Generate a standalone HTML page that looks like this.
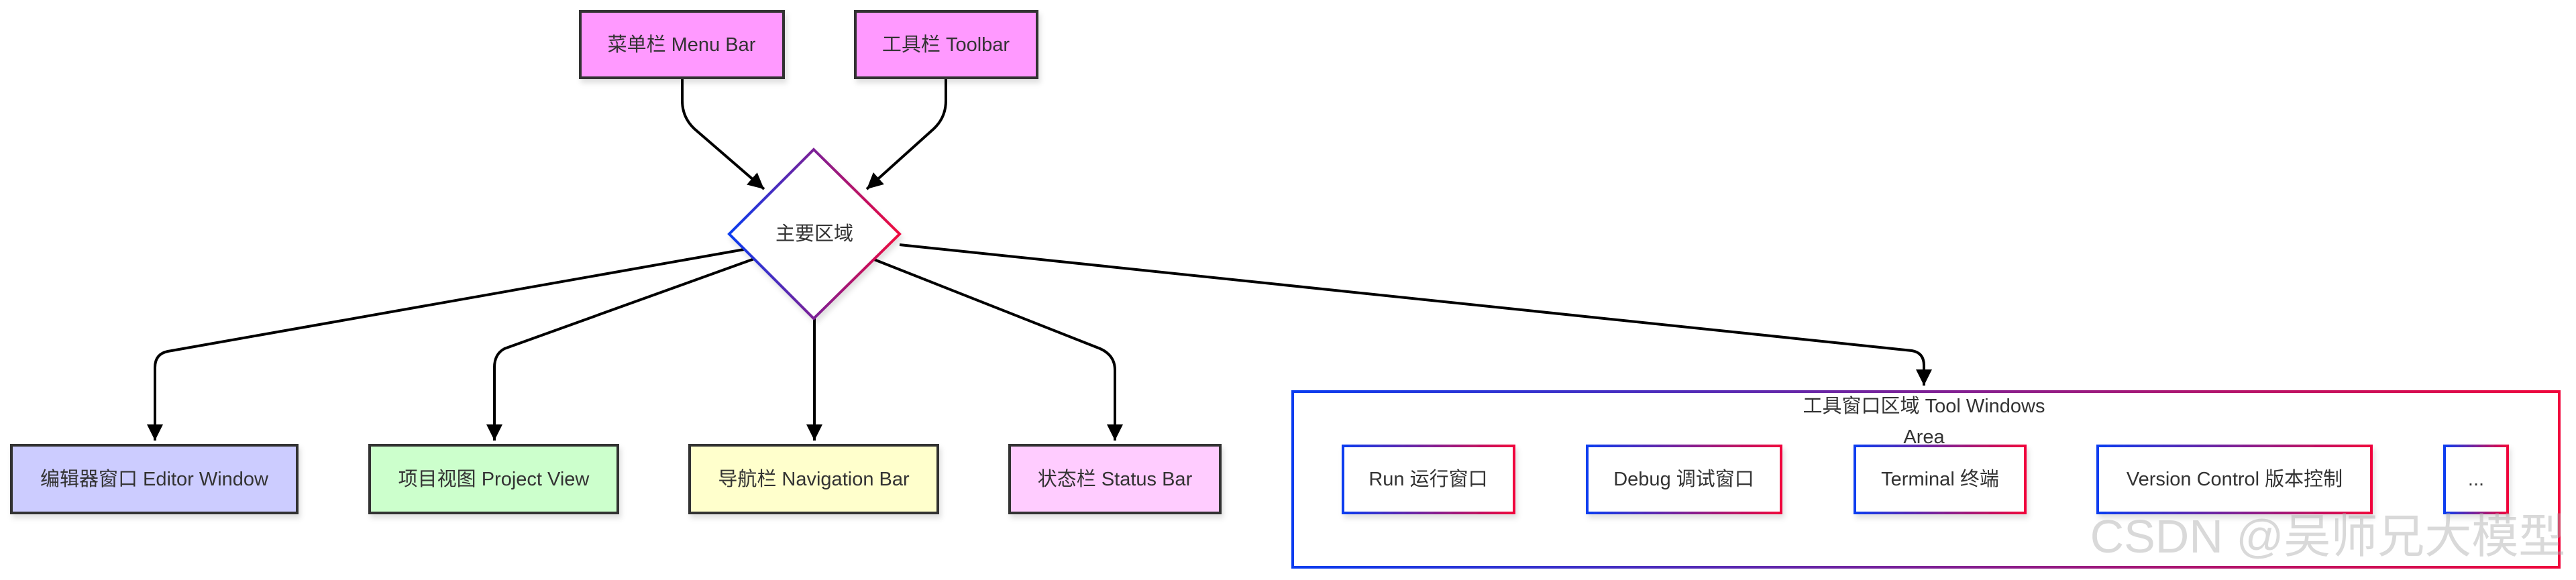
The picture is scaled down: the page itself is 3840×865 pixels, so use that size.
<!DOCTYPE html>
<html><head><meta charset="utf-8"><style>
html,body{margin:0;padding:0;background:#fff;}
svg{display:block;}
text{font-family:"Liberation Sans","Noto Sans CJK SC",sans-serif;fill:#333;}
</style></head><body>
<svg width="3840" height="865" viewBox="0 0 3840 865" xmlns="http://www.w3.org/2000/svg">
<defs>
<linearGradient id="g" x1="0" y1="0" x2="1" y2="0">
<stop offset="0" stop-color="#0a3cf0"/><stop offset="1" stop-color="#f0063c"/>
</linearGradient>
<marker id="a" markerUnits="userSpaceOnUse" markerWidth="30" markerHeight="30" refX="24" refY="12" orient="auto">
<path d="M0,0 L24,12 L0,24 z" fill="#000"/>
</marker>
<filter id="s" x="-10%" y="-10%" width="130%" height="140%">
<feDropShadow dx="3" dy="6" stdDeviation="4" flood-color="#000" flood-opacity="0.12"/>
</filter>
</defs>

<!-- connectors -->
<g fill="none" stroke="#000" stroke-width="4" marker-end="url(#a)">
<path d="M1017,118 V150 Q1017,175 1035,192 L1139,282"/>
<path d="M1410,118 V150 Q1410,175 1392,192 L1292,282"/>
<path d="M1109,372 L250,524 Q231,528 231,548 V657"/>
<path d="M1127,385 L752,520 Q737,528 737,548 V657"/>
<path d="M1214,475 V657"/>
<path d="M1303,387 L1640,520 Q1662,530 1662,552 V657"/>
<path d="M1341,365 L2850,523 Q2868,526 2868,545 V575"/>
</g>

<!-- top boxes -->
<g filter="url(#s)" stroke="#333" stroke-width="4">
<rect x="865" y="17" width="303" height="99" fill="#ff99ff"/>
<rect x="1275" y="17" width="271" height="99" fill="#ff99ff"/>
<rect x="17" y="664" width="426" height="101" fill="#ccccff"/>
<rect x="551" y="664" width="370" height="101" fill="#ccffcc"/>
<rect x="1028" y="664" width="370" height="101" fill="#ffffcc"/>
<rect x="1505" y="664" width="314" height="101" fill="#ffccff"/>
</g>
<polygon points="1213,223 1341,349 1213,475 1087,349" fill="#fff" stroke="url(#g)" stroke-width="4" filter="url(#s)"/>

<!-- tool windows area -->
<rect x="1927" y="584" width="1888" height="262" fill="none" stroke="url(#g)" stroke-width="4"/>
<g fill="#fff" stroke="url(#g)" stroke-width="4" filter="url(#s)">
<rect x="2002" y="665" width="255" height="100"/>
<rect x="2366" y="665" width="289" height="100"/>
<rect x="2765" y="665" width="254" height="100"/>
<rect x="3127" y="665" width="408" height="100"/>
<rect x="3644" y="665" width="94" height="100"/>
</g>

<g font-size="29" text-anchor="middle" dominant-baseline="central">
<text x="1016" y="67">菜单栏 Menu Bar</text>
<text x="1410" y="67">工具栏 Toolbar</text>
<text x="1214" y="349">主要区域</text>
<text x="230" y="715">编辑器窗口 Editor Window</text>
<text x="736" y="715">项目视图 Project View</text>
<text x="1213" y="715">导航栏 Navigation Bar</text>
<text x="1662" y="715">状态栏 Status Bar</text>
<text x="2868" y="606" fill="#000">工具窗口区域 Tool Windows</text>
<text x="2868" y="652" fill="#000">Area</text>
<text x="2129" y="715">Run 运行窗口</text>
<text x="2510" y="715">Debug 调试窗口</text>
<text x="2892" y="715">Terminal 终端</text>
<text x="3331" y="715">Version Control 版本控制</text>
<text x="3691" y="715">...</text>
</g>
<text x="3470" y="800" font-size="70" text-anchor="middle" dominant-baseline="central" style="fill:rgba(170,170,170,0.45)">CSDN @吴师兄大模型</text>
</svg>
</body></html>
